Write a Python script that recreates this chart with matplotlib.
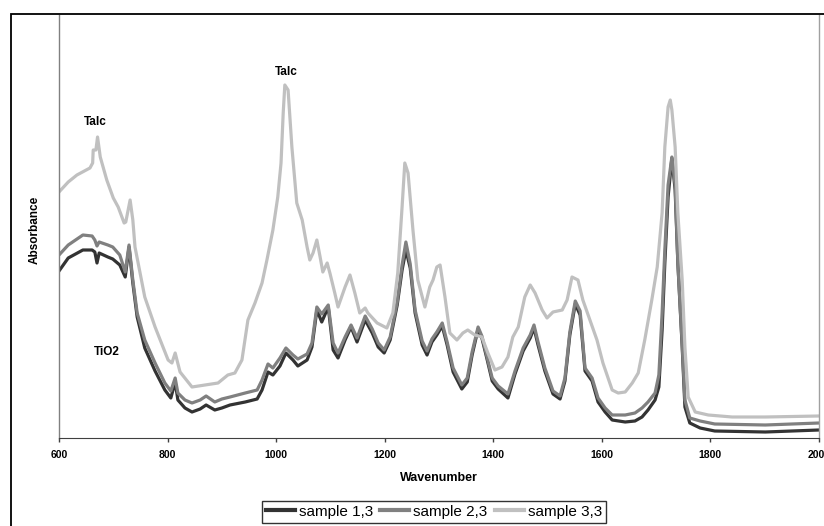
import matplotlib
matplotlib.use("Agg")
import matplotlib.pyplot as plt
from matplotlib.patches import Rectangle

plt.rcParams['font.family'] = ['Liberation Sans', 'DejaVu Sans']

# wavenumber grid for samples 1,3 and 2,3
wn_12 = [600, 617, 644, 661, 666, 670, 674, 690, 699, 712,
         722, 729, 736, 744, 758, 777, 795, 806, 814, 819,
         832, 845, 860, 871, 887, 900, 915, 943, 965, 974,
         985, 994, 1007, 1018, 1031, 1040, 1057, 1066, 1075, 1084,
         1096, 1105, 1114, 1127, 1138, 1149, 1164, 1177, 1188, 1199,
         1210, 1223, 1232, 1239, 1247, 1256, 1269, 1278, 1287, 1296,
         1306, 1315, 1326, 1342, 1352, 1361, 1372, 1379, 1388, 1398,
         1409, 1427, 1440, 1455, 1468, 1475, 1482, 1495, 1510, 1523,
         1532, 1541, 1551, 1560, 1569, 1582, 1593, 1606, 1619, 1643,
         1661, 1674, 1685, 1698, 1705, 1711, 1716, 1722, 1729, 1735,
         1740, 1748, 1753, 1762, 1781, 1808, 1901, 2000]

sample_1 = [0.334, 0.360, 0.376, 0.376, 0.372, 0.350, 0.370, 0.362, 0.358, 0.346,
            0.322, 0.382, 0.310, 0.242, 0.180, 0.134, 0.096, 0.080, 0.112, 0.076,
            0.060, 0.052, 0.058, 0.066, 0.056, 0.060, 0.066, 0.072, 0.078, 0.096,
            0.132, 0.126, 0.144, 0.170, 0.156, 0.144, 0.156, 0.182, 0.256, 0.232,
            0.262, 0.176, 0.160, 0.196, 0.222, 0.192, 0.236, 0.210, 0.182, 0.170,
            0.196, 0.266, 0.336, 0.376, 0.340, 0.250, 0.186, 0.166, 0.192, 0.206,
            0.224, 0.186, 0.132, 0.098, 0.112, 0.166, 0.218, 0.200, 0.160, 0.114,
            0.098, 0.080, 0.128, 0.174, 0.200, 0.220, 0.188, 0.134, 0.088, 0.078,
            0.114, 0.206, 0.268, 0.246, 0.134, 0.114, 0.072, 0.052, 0.036, 0.032,
            0.034, 0.042, 0.056, 0.076, 0.102, 0.216, 0.350, 0.482, 0.560, 0.496,
            0.350, 0.182, 0.062, 0.030, 0.020, 0.014, 0.012, 0.016]

sample_2 = [0.366, 0.386, 0.406, 0.404, 0.396, 0.384, 0.392, 0.386, 0.382, 0.366,
            0.332, 0.386, 0.316, 0.250, 0.196, 0.150, 0.110, 0.094, 0.120, 0.090,
            0.076, 0.070, 0.076, 0.084, 0.072, 0.078, 0.082, 0.090, 0.096, 0.116,
            0.148, 0.140, 0.160, 0.180, 0.166, 0.158, 0.168, 0.190, 0.262, 0.248,
            0.266, 0.190, 0.170, 0.202, 0.226, 0.200, 0.244, 0.218, 0.190, 0.176,
            0.202, 0.272, 0.346, 0.392, 0.348, 0.256, 0.194, 0.174, 0.198, 0.212,
            0.230, 0.192, 0.140, 0.106, 0.120, 0.172, 0.222, 0.204, 0.164, 0.120,
            0.104, 0.088, 0.134, 0.180, 0.206, 0.226, 0.194, 0.140, 0.094, 0.084,
            0.120, 0.212, 0.274, 0.254, 0.140, 0.120, 0.080, 0.060, 0.046, 0.046,
            0.050, 0.060, 0.072, 0.090, 0.126, 0.250, 0.376, 0.506, 0.562, 0.506,
            0.350, 0.186, 0.076, 0.040, 0.034, 0.028, 0.026, 0.030]

# sample 3,3 (with talc) read on its own grid
wn_3 = [600, 617, 633, 657, 662, 663, 668, 671, 676, 688,
        700, 709, 720, 723, 731, 736, 740, 758, 777, 801,
        808, 814, 823, 845, 869, 893, 911, 924, 937, 948,
        961, 974, 983, 994, 1003, 1009, 1013, 1016, 1022, 1029,
        1038, 1048, 1057, 1062, 1068, 1075, 1081, 1086, 1094, 1099,
        1108, 1114, 1127, 1136, 1145, 1154, 1164, 1169, 1186, 1204,
        1215, 1224, 1232, 1237, 1243, 1252, 1261, 1274, 1283, 1289,
        1296, 1302, 1311, 1320, 1333, 1344, 1353, 1366, 1379, 1390,
        1403, 1416, 1427, 1436, 1446, 1458, 1468, 1477, 1490, 1499,
        1510, 1527, 1536, 1545, 1556, 1565, 1578, 1591, 1602, 1619,
        1630, 1643, 1656, 1667, 1679, 1692, 1702, 1711, 1716, 1722,
        1726, 1729, 1735, 1740, 1748, 1753, 1759, 1772, 1796, 1840,
        1901, 2000]

sample_3 = [0.492, 0.512, 0.526, 0.540, 0.550, 0.576, 0.576, 0.602, 0.562, 0.516,
            0.480, 0.462, 0.430, 0.432, 0.476, 0.436, 0.382, 0.282, 0.222, 0.156,
            0.150, 0.170, 0.132, 0.102, 0.106, 0.110, 0.126, 0.130, 0.156, 0.236,
            0.270, 0.310, 0.356, 0.416, 0.482, 0.550, 0.650, 0.706, 0.696, 0.582,
            0.470, 0.436, 0.382, 0.356, 0.370, 0.396, 0.362, 0.332, 0.350, 0.330,
            0.290, 0.262, 0.302, 0.326, 0.290, 0.250, 0.260, 0.250, 0.230, 0.220,
            0.250, 0.330, 0.462, 0.550, 0.530, 0.416, 0.316, 0.262, 0.302, 0.316,
            0.342, 0.346, 0.282, 0.210, 0.196, 0.210, 0.216, 0.206, 0.202, 0.170,
            0.136, 0.142, 0.162, 0.202, 0.222, 0.282, 0.306, 0.290, 0.256, 0.240,
            0.252, 0.256, 0.276, 0.322, 0.316, 0.276, 0.236, 0.196, 0.150, 0.096,
            0.090, 0.092, 0.110, 0.130, 0.196, 0.276, 0.342, 0.450, 0.582, 0.662,
            0.676, 0.656, 0.582, 0.450, 0.316, 0.182, 0.082, 0.052, 0.046, 0.042,
            0.042, 0.044]

labels = ["sample 1,3", "sample 2,3", "sample 3,3"]
colors = ["#333333", "#808080", "#C0C0C0"]

fig = plt.figure(figsize=(8.24, 5.26), dpi=100)
ax = fig.add_axes([59 / 824, 1 - 438 / 526, 760 / 824, 423 / 526])

ax.plot(wn_12, sample_1, color=colors[0], lw=2.3, label=labels[0])
ax.plot(wn_12, sample_2, color=colors[1], lw=2.3, label=labels[1])
ax.plot(wn_3, sample_3, color=colors[2], lw=2.3, label=labels[2])

ax.set_xlim(600, 2000)
ax.set_ylim(0, 0.846)
ax.set_xticks(range(600, 2001, 200))
ax.set_yticks([])
ax.tick_params(axis='x', direction='out', length=3, width=1, pad=5.5,
               labelsize=7.5, colors='#404040', labelcolor='black')
for lab in ax.get_xticklabels():
    lab.set_fontweight('bold')

ax.spines['top'].set_visible(False)
ax.spines['left'].set_color('#808080')
ax.spines['right'].set_color('#a0a0a0')
ax.spines['bottom'].set_color('#404040')
ax.spines['left'].set_linewidth(1)
ax.spines['right'].set_linewidth(1)

ax.set_xlabel("Wavenumber", fontsize=9, fontweight='bold', va='center')
ax.xaxis.set_label_coords(0.5, (438 - 478) / 423)
ax.set_ylabel("Absorbance", fontsize=8.5, fontweight='bold', va='center')
ax.yaxis.set_label_coords((35 - 59) / 760, 0.5 - 3 / 423)

ax.text(666, 0.632, "Talc", fontsize=8.5, fontweight='bold', ha='center', va='center')
ax.text(1018, 0.732, "Talc", fontsize=8.5, fontweight='bold', ha='center', va='center')
ax.text(688, 0.172, "TiO2", fontsize=8.5, fontweight='bold', ha='center', va='center')

# outer chart frame (cropped on right and bottom)
fig.patches.append(Rectangle((11 / 824, -0.1), 1.2, 1 - 14 / 526 + 0.1,
                             transform=fig.transFigure, fill=False,
                             edgecolor='black', lw=1.3))

leg = fig.legend(loc='upper center', bbox_to_anchor=(434 / 824, 1 - 501 / 526),
                 ncol=3, fontsize=11, frameon=True, fancybox=False,
                 edgecolor='black', handlelength=1.9, handletextpad=0.25,
                 columnspacing=0.5, borderpad=0.25, borderaxespad=0)
leg.get_frame().set_linewidth(1)
for h in leg.get_lines():
    h.set_linewidth(3)

fig.savefig("out.png", dpi=100)
